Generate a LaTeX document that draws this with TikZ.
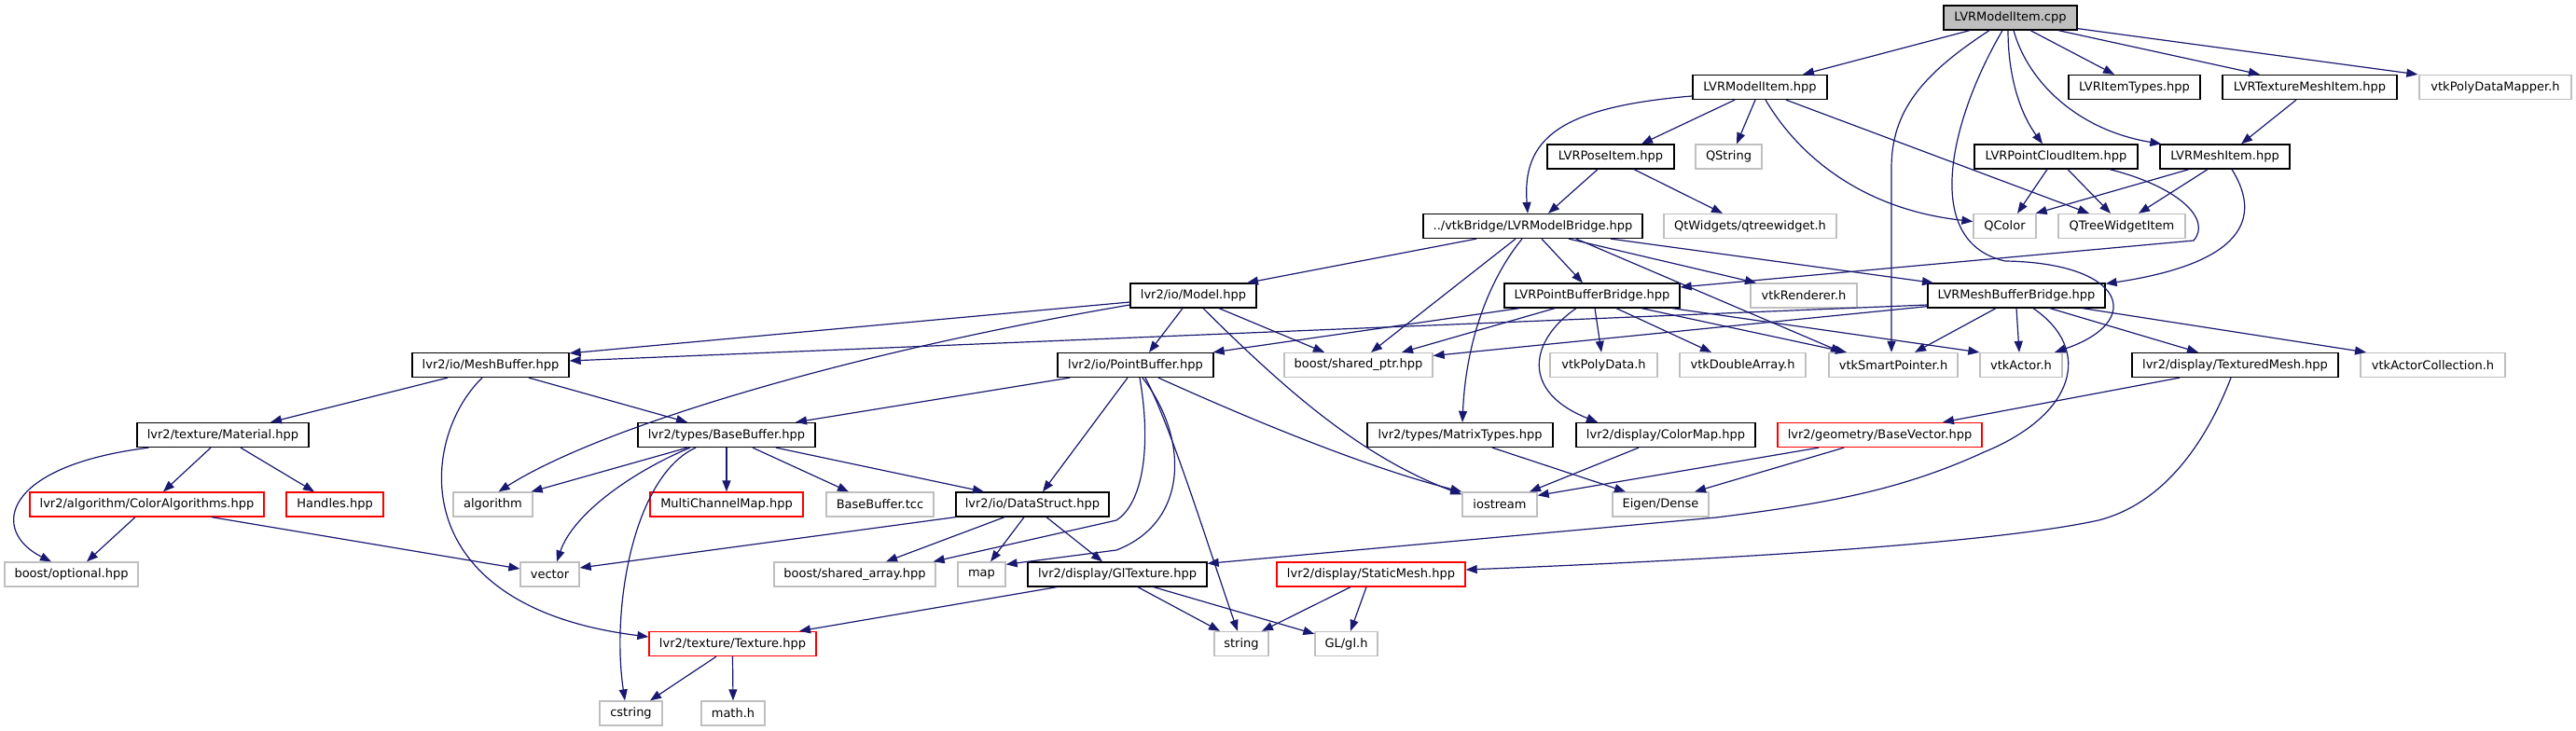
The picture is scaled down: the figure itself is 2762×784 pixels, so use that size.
\documentclass[tikz,border=0pt]{standalone}
\usepackage{fontspec}
\setmainfont{DejaVu Sans}
\usetikzlibrary{arrows.meta}
\definecolor{edgec}{HTML}{191970}
\definecolor{grey75}{HTML}{BFBFBF}
\begin{document}
\begin{tikzpicture}[x=1pt,y=-1pt,
  basebox/.style={draw, rectangle, minimum height=26pt, inner sep=0pt, line width=1.3pt,
    font=\fontsize{13}{15}\selectfont, anchor=center},
  docbox/.style={basebox, draw=black},
  extbox/.style={basebox, draw=grey75},
  redbox/.style={basebox, draw=red},
  rootbox/.style={basebox, draw=black, fill=grey75},
  dep/.style={draw=edgec, line width=1.2pt, -{Triangle[length=12pt,width=9pt]}, fill=none}]
\useasboundingbox (0,0) rectangle (2762,784);
% row 0
\node[rootbox, minimum width=143pt] (root) at (2155.5,19) {LVRModelItem.cpp};
% row 1
\node[docbox, minimum width=144pt] (mih) at (1887,93.5) {LVRModelItem.hpp};
\node[docbox, minimum width=141pt] (types) at (2288.5,93.5) {LVRItemTypes.hpp};
\node[docbox, minimum width=187pt] (tmi) at (2476.5,93.5) {LVRTextureMeshItem.hpp};
\node[extbox, minimum width=163pt] (pdm) at (2675.5,93.5) {vtkPolyDataMapper.h};
% row 2
\node[docbox, minimum width=136pt] (pose) at (1727,168) {LVRPoseItem.hpp};
\node[extbox, minimum width=71pt] (qstr) at (1853.5,168) {QString};
\node[docbox, minimum width=175pt] (pci) at (2204.5,168) {LVRPointCloudItem.hpp};
\node[docbox, minimum width=139pt] (mi) at (2385.5,168) {LVRMeshItem.hpp};
% row 3
\node[docbox, minimum width=235pt] (mb) at (1643.5,242.5) {../vtkBridge/LVRModelBridge.hpp};
\node[extbox, minimum width=185pt] (qtw) at (1876.5,242.5) {QtWidgets/qtreewidget.h};
\node[extbox, minimum width=67pt] (qcol) at (2149.5,242.5) {QColor};
\node[extbox, minimum width=136pt] (qtwi) at (2275,242.5) {QTreeWidgetItem};
% row 4
\node[docbox, minimum width=135pt] (model) at (1279.5,317) {lvr2/io/Model.hpp};
\node[docbox, minimum width=188pt] (pbb) at (1707,317) {LVRPointBufferBridge.hpp};
\node[extbox, minimum width=114pt] (ren) at (1934,317) {vtkRenderer.h};
\node[docbox, minimum width=190pt] (mbb) at (2162,317) {LVRMeshBufferBridge.hpp};
% row 5
\node[docbox, minimum width=168pt] (mesh) at (526,391.5) {lvr2/io/MeshBuffer.hpp};
\node[docbox, minimum width=167pt] (pb) at (1217.5,391.5) {lvr2/io/PointBuffer.hpp};
\node[extbox, minimum width=159pt] (sp) at (1456.5,391.5) {boost/shared\_ptr.hpp};
\node[extbox, minimum width=115pt] (pd) at (1719.5,391.5) {vtkPolyData.h};
\node[extbox, minimum width=135pt] (da) at (1868.5,391.5) {vtkDoubleArray.h};
\node[extbox, minimum width=138pt] (smp) at (2030,391.5) {vtkSmartPointer.h};
\node[extbox, minimum width=88pt] (act) at (2167,391.5) {vtkActor.h};
\node[docbox, minimum width=221pt] (tm) at (2396.5,391.5) {lvr2/display/TexturedMesh.hpp};
\node[extbox, minimum width=155pt] (ac) at (2608.5,391.5) {vtkActorCollection.h};
% row 6
\node[docbox, minimum width=184pt] (mat) at (239,466.5) {lvr2/texture/Material.hpp};
\node[docbox, minimum width=190pt] (bb) at (779,466.5) {lvr2/types/BaseBuffer.hpp};
\node[docbox, minimum width=199pt] (mt) at (1565.5,466.5) {lvr2/types/MatrixTypes.hpp};
\node[docbox, minimum width=192pt] (cm) at (1786,466.5) {lvr2/display/ColorMap.hpp};
\node[redbox, minimum width=219pt] (bv) at (2015.5,466.5) {lvr2/geometry/BaseVector.hpp};
% row 7
\node[redbox, minimum width=251pt] (ca) at (157.5,541) {lvr2/algorithm/ColorAlgorithms.hpp};
\node[redbox, minimum width=104pt] (hdl) at (359,541) {Handles.hpp};
\node[extbox, minimum width=85pt] (alg) at (528.5,541) {algorithm};
\node[redbox, minimum width=164pt] (mcm) at (779,541) {MultiChannelMap.hpp};
\node[extbox, minimum width=115pt] (tcc) at (943.5,541) {BaseBuffer.tcc};
\node[docbox, minimum width=164pt] (ds) at (1107,541) {lvr2/io/DataStruct.hpp};
\node[extbox, minimum width=80pt] (ios) at (1608,541) {iostream};
\node[extbox, minimum width=103pt] (eig) at (1780.5,541) {Eigen/Dense};
% row 8
\node[extbox, minimum width=143pt] (opt) at (76.5,616) {boost/optional.hpp};
\node[extbox, minimum width=63pt] (vec) at (589.5,616) {vector};
\node[extbox, minimum width=173pt] (sa) at (916.5,616) {boost/shared\_array.hpp};
\node[extbox, minimum width=51pt] (map) at (1052.5,616) {map};
\node[docbox, minimum width=192pt] (glt) at (1198,616) {lvr2/display/GlTexture.hpp};
\node[redbox, minimum width=202pt] (sm) at (1470,616) {lvr2/display/StaticMesh.hpp};
% row 9
\node[redbox, minimum width=179pt] (tex) at (785.5,690.5) {lvr2/texture/Texture.hpp};
\node[extbox, minimum width=58pt] (str) at (1331,690.5) {string};
\node[extbox, minimum width=67pt] (gl) at (1443.5,690.5) {GL/gl.h};
% row 10
\node[extbox, minimum width=67pt] (cstr) at (676.5,765) {cstring};
\node[extbox, minimum width=68pt] (math) at (786,765) {math.h};

% root edges
\draw[dep] ([xshift=-43.5]root.south) -- ([xshift=46]mih.north);
\draw[dep] ([xshift=-22.5]root.south) .. controls (2060,80) and (2028,120) .. (2028,180) -- ([xshift=-2]smp.north);
\draw[dep] ([xshift=-8.5]root.south) .. controls (2090,130) and (2060,260) .. (2150,280) .. controls (2280,282) and (2300,345) .. ([xshift=36]act.north);
\draw[dep] ([xshift=-2.5]root.south) .. controls (2153,80) and (2165,120) .. ([xshift=-14.5]pci.north);
\draw[dep] ([xshift=3.5]root.south) .. controls (2175,90) and (2230,140) .. ([xshift=2]mi.north west);
\draw[dep] ([xshift=21.5]root.south) -- ([xshift=-21.5]types.north);
\draw[dep] ([xshift=51.5]root.south) -- ([xshift=-53.5]tmi.north);
\draw[dep] ([yshift=2]root.south east) -- ([xshift=-1]pdm.north west);
% mih edges
\draw[dep] ([yshift=-9.5]mih.west) .. controls (1670,115) and (1632,150) .. ([xshift=-5.5]mb.north);
\draw[dep] ([xshift=-27]mih.south) -- ([xshift=33]pose.north);
\draw[dep] ([xshift=-5]mih.south) -- ([xshift=8.5]qstr.north);
\draw[dep] ([xshift=6]mih.south) .. controls (1930,170) and (2000,225) .. ([yshift=5]qcol.west);
\draw[dep] ([xshift=28]mih.south) -- ([xshift=-35]qtwi.north);
% tmi
\draw[dep] ([xshift=-14.5]tmi.south) -- ([xshift=17.5]mi.north);
% pose
\draw[dep] ([xshift=-14]pose.south) -- ([xshift=16.5]mb.north);
\draw[dep] ([xshift=25]pose.south) -- ([xshift=-29.5]qtw.north);
% pci
\draw[dep] ([xshift=-9.5]pci.south) -- ([xshift=13.5]qcol.north);
\draw[dep] ([xshift=12.5]pci.south) -- ([xshift=-12]qtwi.north);
\draw[dep] ([xshift=57.5]pci.south) .. controls (2335,200) and (2372,235) .. (2352,258) -- ([yshift=9]pbb.east);
% mi
\draw[dep] ([xshift=-38.5]mi.south) -- ([xshift=-1]qcol.north east);
\draw[dep] ([xshift=-18.5]mi.south) -- ([xshift=18]qtwi.north);
\draw[dep] ([xshift=7.5]mi.south) .. controls (2420,225) and (2420,280) .. ([yshift=-1]mbb.north east);
% mb
\draw[dep] ([xshift=-60.5]mb.south) -- ([xshift=57.5]model.north);
\draw[dep] ([xshift=-18.5]mb.south) -- ([xshift=13.5]sp.north);
\draw[dep] ([xshift=-11.5]mb.south) .. controls (1600,295) and (1572,360) .. ([xshift=2.5]mt.north);
\draw[dep] ([xshift=9.5]mb.south) -- ([xshift=-10]pbb.north);
\draw[dep] ([xshift=38.5]mb.south) -- ([xshift=-51]ren.north);
\draw[dep] ([xshift=46.5]mb.south) -- ([xshift=-55]smp.north);
\draw[dep] ([xshift=83.5]mb.south) -- ([xshift=-89]mbb.north);
% model
\draw[dep] ([yshift=-7]model.west) -- ([yshift=-1]mesh.north east);
\draw[dep] ([yshift=-10]model.west) .. controls (900,380) and (640,460) .. ([xshift=6]alg.north);
\draw[dep] ([xshift=-11.5]model.south) -- ([xshift=14.5]pb.north);
\draw[dep] ([xshift=10.5]model.south) .. controls (1380,420) and (1460,490) .. ([yshift=-3]ios.north west);
\draw[dep] ([xshift=27.5]model.south) -- ([xshift=-36.5]sp.north);
% pbb
\draw[dep] ([xshift=-78]pbb.south) -- ([xshift=-1]pb.north east);
\draw[dep] ([xshift=-40]pbb.south) -- ([xshift=46.5]sp.north);
\draw[dep] ([xshift=-17]pbb.south) .. controls (1640,365) and (1630,420) .. ([xshift=-73]cm.north);
\draw[dep] ([xshift=3]pbb.south) -- ([xshift=-2.5]pd.north);
\draw[dep] ([xshift=26]pbb.south) -- ([xshift=-33.5]da.north);
\draw[dep] ([xshift=53]pbb.south) -- ([xshift=-50]smp.north);
\draw[dep] ([xshift=86]pbb.south) -- (act.north west);
% mbb
\draw[dep] ([yshift=-10]mbb.west) -- ([yshift=4.5]mesh.east);
\draw[dep] ([yshift=2]mbb.south west) -- ([yshift=10]sp.east);
\draw[dep] ([xshift=-22]mbb.south) -- ([xshift=23]smp.north);
\draw[dep] (mbb.south) -- ([xshift=-2]act.north);
\draw[dep] ([xshift=18]mbb.south) .. controls (2245,375) and (2225,445) .. (2127,485) .. controls (2040,525) and (1960,540) .. (1840,555) -- ([yshift=-2]glt.north east);
\draw[dep] ([xshift=36]mbb.south) -- ([xshift=-39.5]tm.north);
\draw[dep] ([xshift=71]mbb.south) -- ([xshift=-71.5]ac.north);
% tm
\draw[dep] ([xshift=-59.5]tm.south) -- ([xshift=67.5]bv.north);
\draw[dep] ([xshift=-4.5]tm.south) .. controls (2365,475) and (2320,540) .. (2250,558) .. controls (2150,580) and (1900,598) .. ([yshift=5]sm.east);
% bv, mt, cm
\draw[dep] ([xshift=-65.5]bv.south) -- ([yshift=-4]ios.north east);
\draw[dep] ([xshift=-38.5]bv.south) -- ([xshift=36.5]eig.north);
\draw[dep] ([xshift=34.5]mt.south) -- ([xshift=-37.5]eig.north);
\draw[dep] ([xshift=-29]cm.south) -- ([xshift=32]ios.north);
% pb
\draw[dep] ([xshift=-70.5]pb.south) -- ([xshift=74]bb.north);
\draw[dep] ([xshift=-8.5]pb.south) -- ([xshift=11]ds.north);
\draw[dep] ([xshift=4.5]pb.south) .. controls (1235,480) and (1225,540) .. (1197,558) -- ([xshift=-3]sa.north east);
\draw[dep] ([xshift=7.5]pb.south) .. controls (1275,470) and (1275,560) .. (1197,590) -- ([yshift=-3]map.north east);
\draw[dep] ([xshift=10.5]pb.south) .. controls (1255,455) and (1300,600) .. ([xshift=-4]str.north);
\draw[dep] ([xshift=24.5]pb.south) .. controls (1330,445) and (1460,500) .. (ios.north west);
% mesh
\draw[dep] ([xshift=-46]mesh.south) -- ([xshift=51]mat.north);
\draw[dep] ([xshift=41]mesh.south) -- ([xshift=-42]bb.north);
\draw[dep] ([xshift=-9]mesh.south) .. controls (450,470) and (430,650) .. ([yshift=7.5]tex.west);
% mat
\draw[dep] ([xshift=13]mat.south west) .. controls (0,500) and (-10,570) .. ([xshift=-21.5]opt.north);
\draw[dep] ([xshift=-13]mat.south) -- ([xshift=17.5]ca.north);
\draw[dep] ([xshift=19]mat.south) -- ([xshift=-22]hdl.north);
% ca
\draw[dep] ([xshift=-12.5]ca.south) -- ([xshift=16.5]opt.north);
\draw[dep] ([xshift=69.5]ca.south) -- ([yshift=6]vec.west);
% bb
\draw[dep] ([xshift=-42]bb.south) -- ([xshift=-2]alg.north east);
\draw[dep] ([xshift=-39]bb.south) .. controls (680,505) and (615,550) .. ([xshift=7.5]vec.north);
\draw[dep] ([xshift=-33]bb.south) .. controls (680,510) and (655,650) .. ([xshift=-6.5]cstr.north);
\draw[dep] (bb.south) -- (mcm.north);
\draw[dep] ([xshift=28]bb.south) -- ([xshift=-33.5]tcc.north);
\draw[dep] ([xshift=53]bb.south) -- ([xshift=-52]ds.north);
% ds
\draw[dep] (ds.south west) -- ([yshift=7]vec.east);
\draw[dep] ([xshift=-30]ds.south) -- ([xshift=33.5]sa.north);
\draw[dep] ([xshift=-9]ds.south) -- ([xshift=9.5]map.north);
\draw[dep] ([xshift=15]ds.south) -- ([xshift=-16]glt.north);
% glt
\draw[dep] ([xshift=-65]glt.south) -- ([xshift=71.5]tex.north);
\draw[dep] ([xshift=22]glt.south) -- ([xshift=-23]str.north);
\draw[dep] ([xshift=39]glt.south) -- ([yshift=-3]gl.north west);
% sm
\draw[dep] ([xshift=-22]sm.south) -- ([xshift=22]str.north);
\draw[dep] ([xshift=-5]sm.south) -- ([xshift=4.5]gl.north);
% tex
\draw[dep] ([xshift=-17.5]tex.south) -- ([xshift=20.5]cstr.north);
\draw[dep] (tex.south) -- (math.north);
\end{tikzpicture}
\end{document}
